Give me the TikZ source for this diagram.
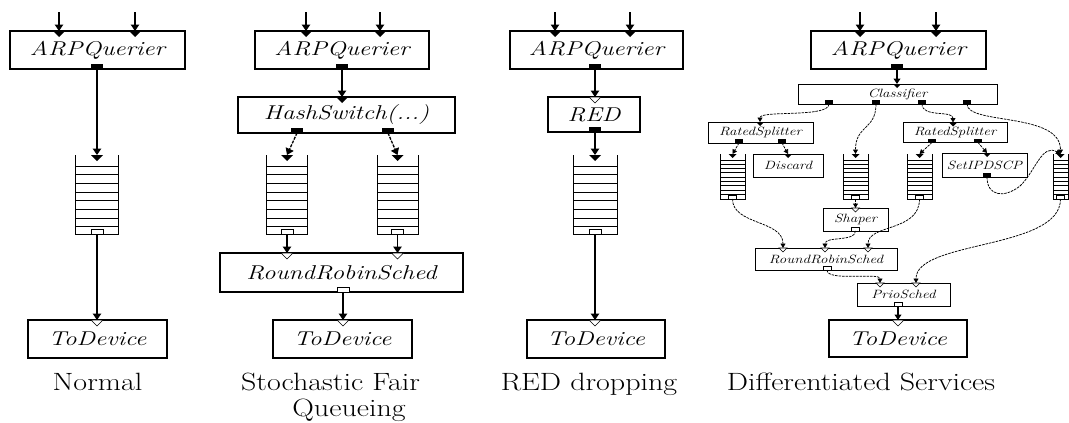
\documentclass[tikz,border=0pt]{standalone}
\usepackage{fontspec}
\usepackage{graphicx}
\usetikzlibrary{arrows.meta}

% element and caption fonts
\newcommand\elbig{\fontsize{20}{20}\selectfont\itshape}
\newcommand\elsm{\fontsize{12}{12}\selectfont\itshape}
\newcommand\captionfnt{\fontsize{25}{28}\selectfont}
% wide lettering for element names and captions
\newcommand\el[1]{\scalebox{1.25}[1]{#1}}
\newcommand\capw[1]{\scalebox{1.2}[1]{#1}}

% port sizes (half width, triangle height, output height)
\newcommand\portw{6}
\newcommand\porth{6}
\newcommand\outh{5}

% push input port: filled triangle hanging from the box top
\newcommand\pushin[3]{\fill (#2-\portw,#3) -- (#2+\portw,#3) -- (#2,#3+\porth) -- cycle;
  \coordinate (#1) at (#2,#3);}
% pull input port: hollow triangle
\newcommand\pullin[3]{\filldraw[fill=white,line width=0.6pt] (#2-\portw,#3) -- (#2+\portw,#3) -- (#2,#3+\porth) -- cycle;
  \coordinate (#1) at (#2,#3);}
% push output port: filled rectangle on the box bottom
\newcommand\pushout[3]{\fill (#2-\portw,#3-\outh) rectangle (#2+\portw,#3);
  \coordinate (#1) at (#2,#3);}
% pull output port: hollow rectangle
\newcommand\pullout[3]{\filldraw[fill=white,line width=0.6pt] (#2-\portw,#3-\outh) rectangle (#2+\portw,#3);
  \coordinate (#1) at (#2,#3);}
% queue: name, centre x, top, bottom, half width, first rung, last rung index, rung spacing
\newcommand\queue[8]{%
  \draw[qline] (#2-#5,#3) -- (#2-#5,#4) -- (#2+#5,#4) -- (#2+#5,#3);
  \foreach \k in {0,...,#7} \draw[qline] (#2-#5,#6+\k*#8) -- (#2+#5,#6+\k*#8);
  \coordinate (#1) at (#2,#3);}

\begin{document}
\begin{tikzpicture}[x=1pt,y=-1pt,
  elem/.style={draw, line width=1.1pt, inner sep=0pt, font=\elbig},
  selem/.style={draw, line width=0.8pt, inner sep=0pt, font=\elsm},
  qline/.style={line width=1pt},
  conn/.style={line width=1.3pt, -{Triangle[width=8.5pt,length=6.5pt]}},
  dconn/.style={conn, dash pattern=on 3pt off 1.2pt},
  mconn/.style={line width=1.1pt, -{Triangle[width=7pt,length=5.5pt]}},
  sconn/.style={line width=0.75pt, dash pattern=on 2.5pt off 1pt, -{Triangle[width=5pt,length=4.5pt]}},
  caption/.style={font=\captionfnt, anchor=base, inner sep=0pt}]
\useasboundingbox (0,0) rectangle (1069,423);

% ---------------- Normal ----------------
\node[elem, minimum width=175pt, minimum height=38pt] (arpA) at (97.5,50) {\el{ARPQuerier}};
\node[elem, minimum width=139pt, minimum height=38pt] (tdA) at (97.5,339) {\el{ToDevice}};
\queue{qA}{97}{155}{234}{21.5}{166}{7}{8.7}
\coordinate (inA1) at (59,12);
\coordinate (inA2) at (135,12);
\pushin{arpA-i1}{59}{31}
\pushin{arpA-i2}{135}{31}
\pushout{arpA-o}{97}{69}
\pushin{qA-i}{97}{155}
\pullout{qA-o}{97}{234}
\pullin{tdA-i}{97}{320}
\draw[conn] (inA1) -- (arpA-i1);
\draw[conn] (inA2) -- (arpA-i2);
\draw[conn] (arpA-o) -- (qA-i);
\draw[conn] (qA-o) -- (tdA-i);
\node[caption] (capA) at (97.5,390) {\capw{Normal}};

% ---------------- Stochastic Fair Queueing ----------------
\node[elem, minimum width=174pt, minimum height=38pt] (arpB) at (342,50) {\el{ARPQuerier}};
\node[elem, minimum width=217pt, minimum height=36pt] (hsB) at (346.5,115) {\el{HashSwitch(...)}};
\node[elem, minimum width=243pt, minimum height=39pt] (rrsB) at (341.5,272.5) {\el{RoundRobinSched}};
\node[elem, minimum width=139pt, minimum height=38pt] (tdB) at (342.5,339) {\el{ToDevice}};
\queue{qB1}{287}{155}{234}{20.5}{166}{7}{8.7}
\queue{qB2}{397.5}{155}{234}{20.5}{166}{7}{8.7}
\coordinate (inB1) at (306,12);
\coordinate (inB2) at (380,12);
\pushin{arpB-i1}{306}{31}
\pushin{arpB-i2}{380}{31}
\pushout{arpB-o}{342}{69}
\pushin{hsB-i}{342}{97}
\pushout{hsB-o1}{297}{133}
\pushout{hsB-o2}{388}{133}
\pushin{qB1-i}{287}{155}
\pushin{qB2-i}{397.5}{155}
\pullout{qB1-o}{287}{234}
\pullout{qB2-o}{397.5}{234}
\pullin{rrsB-i1}{287}{253}
\pullin{rrsB-i2}{397.5}{253}
\pullout{rrsB-o}{343}{292}
\pullin{tdB-i}{343}{320}
\draw[conn] (inB1) -- (arpB-i1);
\draw[conn] (inB2) -- (arpB-i2);
\draw[conn] (arpB-o) -- (hsB-i);
\draw[dconn] (hsB-o1) -- (qB1-i);
\draw[dconn] (hsB-o2) -- (qB2-i);
\draw[conn] (qB1-o) -- (rrsB-i1);
\draw[conn] (qB2-o) -- (rrsB-i2);
\draw[conn] (rrsB-o) -- (tdB-i);
\node[caption] (capB1) at (330.5,390) {\capw{Stochastic Fair}};
\node[caption] (capB2) at (349,416) {\capw{Queueing}};

% ---------------- RED dropping ----------------
\node[elem, minimum width=173pt, minimum height=38pt] (arpC) at (596.5,50) {\el{ARPQuerier}};
\node[elem, minimum width=92pt, minimum height=35pt] (redC) at (594,114.5) {\el{RED}};
\node[elem, minimum width=138pt, minimum height=38pt] (tdC) at (596,339) {\el{ToDevice}};
\queue{qC}{595}{155}{234}{22}{166}{7}{8.7}
\coordinate (inC1) at (555,12);
\coordinate (inC2) at (630,12);
\pushin{arpC-i1}{555}{31}
\pushin{arpC-i2}{630}{31}
\pushout{arpC-o}{595}{69}
\pullin{redC-i}{595}{97}
\pushout{redC-o}{595}{132}
\pushin{qC-i}{595}{155}
\pullout{qC-o}{595}{234}
\pullin{tdC-i}{595}{320}
\draw[conn] (inC1) -- (arpC-i1);
\draw[conn] (inC2) -- (arpC-i2);
\draw[conn] (arpC-o) -- (redC-i);
\draw[conn] (redC-o) -- (qC-i);
\draw[conn] (qC-o) -- (tdC-i);
\node[caption] (capC) at (589,390) {\capw{RED dropping}};

% ---------------- Differentiated Services ----------------
\node[elem, minimum width=175pt, minimum height=38pt] (arpD) at (898.5,50) {\el{ARPQuerier}};
\node[elem, minimum width=138pt, minimum height=37pt] (tdD) at (898,338.5) {\el{ToDevice}};
\coordinate (inD1) at (860,12);
\coordinate (inD2) at (936,12);
\pushin{arpD-i1}{860}{31}
\pushin{arpD-i2}{936}{31}
\pushout{arpD-o}{897}{69}
\pullin{tdD-i}{898}{320}
\draw[conn] (inD1) -- (arpD-i1);
\draw[conn] (inD2) -- (arpD-i2);

\node[selem, minimum width=199pt, minimum height=20pt] (clsD) at (897.5,94) {\el{Classifier}};
\node[selem, minimum width=105pt, minimum height=21pt] (rs1D) at (760.5,132.5) {\el{RatedSplitter}};
\node[selem, minimum width=70pt, minimum height=23pt] (discD) at (788,165.5) {\el{Discard}};
\node[selem, minimum width=65pt, minimum height=23pt] (shpD) at (855.5,219.5) {\el{Shaper}};
\node[selem, minimum width=104pt, minimum height=20pt] (rs2D) at (955,132.5) {\el{RatedSplitter}};
\node[selem, minimum width=85pt, minimum height=24pt] (setD) at (984.5,165) {\el{SetIPDSCP}};
\node[selem, minimum width=142pt, minimum height=22pt] (rrsD) at (826,259) {\el{RoundRobinSched}};
\node[selem, minimum width=93pt, minimum height=23pt] (prioD) at (903.5,294.5) {\el{PrioSched}};

\queue{qD1}{732.5}{154}{199}{12.5}{160}{8}{4.3}
\queue{qD2}{855.5}{154}{199}{12.5}{160}{8}{4.3}
\queue{qD3}{919.5}{154}{199}{12.5}{160}{8}{4.3}
\queue{qD4}{1060.5}{154}{199}{7.5}{160}{8}{4.3}

\renewcommand\portw{4}
\renewcommand\porth{4}
\renewcommand\outh{4}
\pushin{clsD-i}{897}{84}
\pushout{clsD-o1}{829}{104}
\pushout{clsD-o2}{876}{104}
\pushout{clsD-o3}{922}{104}
\pushout{clsD-o4}{967}{104}
\pushin{rs1D-i}{760}{122}
\pushout{rs1D-o1}{739}{143}
\pushout{rs1D-o2}{782}{143}
\pushin{discD-i}{788}{154}
\pushin{rs2D-i}{953}{122.5}
\pushout{rs2D-o1}{932}{142.5}
\pushout{rs2D-o2}{978}{142.5}
\pushin{setD-i}{987}{153}
\pushout{setD-o}{987}{177}
\pushin{qD1-i}{732.5}{154}
\pushin{qD2-i}{855.5}{154}
\pushin{qD3-i}{919.5}{154}
\pushin{qD4-i}{1060.5}{154}
\renewcommand\outh{3.5}
\pullout{qD1-o}{732.5}{199}
\pullout{qD2-o}{855.5}{199}
\pullout{qD3-o}{919.5}{199}
\pullout{qD4-o}{1060.5}{199}
\renewcommand\outh{4}
\pullin{shpD-i}{855.5}{208}
\pullout{shpD-o}{855.5}{231}
\pullin{rrsD-i1}{783}{248}
\pullin{rrsD-i2}{825}{248}
\pullin{rrsD-i3}{868}{248}
\pullout{rrsD-o}{827}{270}
\pullin{prioD-i1}{880}{283}
\pullin{prioD-i2}{916}{283}
\pullout{prioD-o}{898}{306}

\draw[mconn] (arpD-o) -- (clsD-i);
\draw[sconn] (clsD-o1) .. controls (829,118) and (760,110) .. (rs1D-i);
\draw[sconn] (clsD-o2) .. controls (876,130) and (855.5,125) .. (qD2-i);
\draw[sconn] (clsD-o3) .. controls (922,118) and (953,110) .. (rs2D-i);
\draw[sconn] (clsD-o4) .. controls (967,125) and (1060.5,112) .. (qD4-i);
\draw[sconn] (rs1D-o1) -- (qD1-i);
\draw[sconn] (rs1D-o2) -- (discD-i);
\draw[sconn] (rs2D-o1) -- (qD3-i);
\draw[sconn] (rs2D-o2) -- (setD-i);
\draw[sconn] (qD2-o) -- (shpD-i);
\draw[sconn] (setD-o) .. controls (987,197) and (1005,198) .. (1020,186)
  .. controls (1035,172) and (1042,143) .. (qD4-i);
\draw[sconn] (qD1-o) .. controls (732.5,225) and (783,220) .. (rrsD-i1);
\draw[sconn] (shpD-o) .. controls (855.5,242) and (825,236) .. (rrsD-i2);
\draw[sconn] (qD3-o) .. controls (919.5,232) and (868,224) .. (rrsD-i3);
\draw[sconn] (rrsD-o) .. controls (827,282) and (880,272) .. (prioD-i1);
\draw[sconn] (qD4-o) .. controls (1060.5,250) and (916,240) .. (prioD-i2);
\draw[mconn] (prioD-o) -- (tdD-i);
\node[caption] (capD) at (861,390) {\capw{Differentiated Services}};
\end{tikzpicture}
\end{document}
